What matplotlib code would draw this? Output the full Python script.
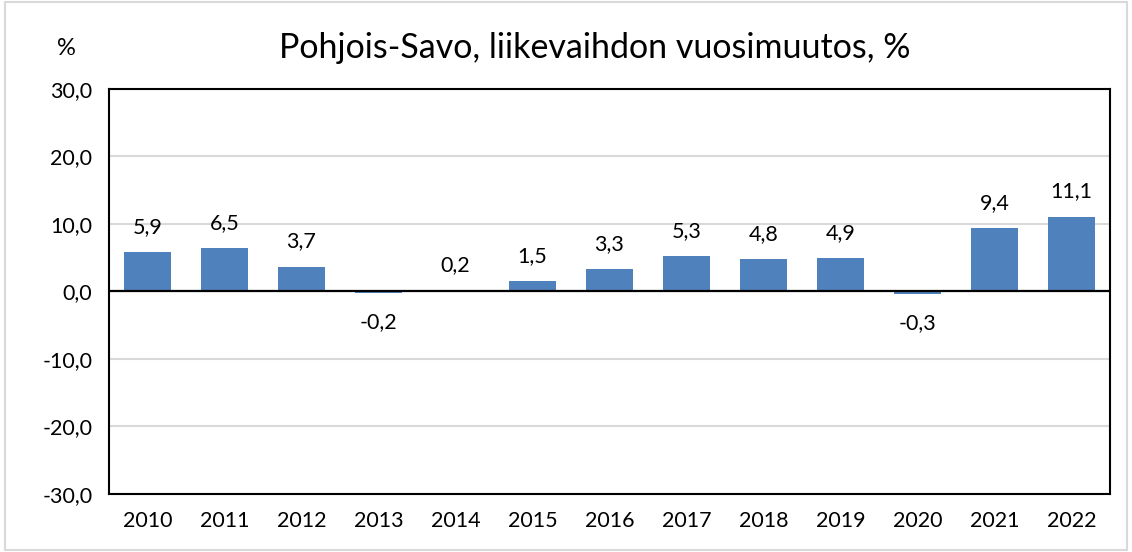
import matplotlib.pyplot as plt
from matplotlib.patches import Rectangle

years = ["2010", "2011", "2012", "2013", "2014", "2015", "2016",
         "2017", "2018", "2019", "2020", "2021", "2022"]
muutos = [5.9, 6.5, 3.7, -0.2, 0.2, 1.5, 3.3, 5.3, 4.8, 4.9, -0.3, 9.4, 11.1]
yticks = [-30, -20, -10, 0, 10, 20, 30]

plt.rcParams['font.family'] = ['Lato', 'DejaVu Sans']

fig = plt.figure(figsize=(11.32, 5.52), dpi=100)
ax = fig.add_axes([0.0963, 0.1051, 0.8843, 0.7337])

x = range(len(years))
ax.bar(x, muutos, width=0.62, color="#4F81BD", zorder=3)
ax.axhline(0, color="black", linewidth=1.6, zorder=4)

for xi, v in zip(x, muutos):
    lab = f"{v:.1f}".replace(".", ",")
    if v >= 0:
        ax.annotate(lab, (xi, v), xytext=(0, 18), textcoords="offset points",
                    ha="center", va="center", fontsize=15.5)
    else:
        ax.annotate(lab, (xi, v), xytext=(0, -21), textcoords="offset points",
                    ha="center", va="center", fontsize=15.5)

ax.set_xlim(-0.5, len(years) - 0.5)
ax.set_ylim(-30, 30)
ax.set_yticks(yticks)
ax.set_yticklabels([f"{t:.1f}".replace(".", ",") for t in yticks], fontsize=15.5)
ax.set_xticks(list(x))
ax.set_xticklabels(years, fontsize=15.5)
ax.tick_params(axis="y", length=0, pad=12)
ax.tick_params(axis="x", length=0, pad=12)
ax.yaxis.grid(True, color="#D9D9D9", linewidth=1.5, zorder=0)
for s in ax.spines.values():
    s.set_linewidth(1.5)
    s.set_color("black")

fig.text(0.525, 0.913, "Pohjois-Savo, liikevaihdon vuosimuutos, %",
         ha="center", va="center", fontsize=24.5)
fig.text(0.059, 0.913, "%", ha="center", va="center", fontsize=17)

fig.add_artist(Rectangle((0.004, 0.004), 0.992, 0.992, transform=fig.transFigure,
                         fill=False, edgecolor="#D9D9D9", linewidth=1.5))

fig.savefig("out.png", dpi=100)
